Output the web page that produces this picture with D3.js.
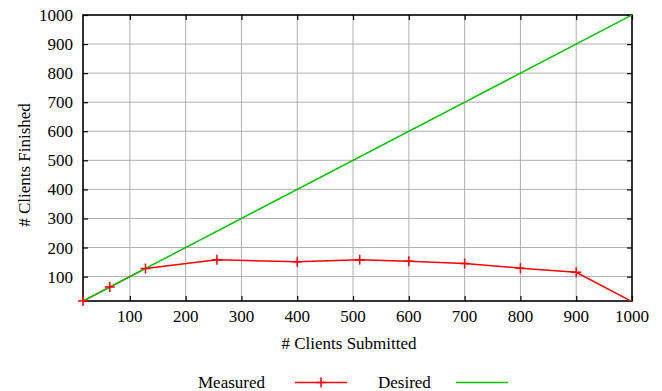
<!DOCTYPE html>
<html><head><meta charset="utf-8">
<script src="https://cdn.jsdelivr.net/npm/d3@7"></script>
</head><body style="margin:0"><svg id="c" width="662" height="391" font-family="Times New Roman, Liberation Serif, serif"></svg>
<script>
const submitted = [16, 64, 128, 256, 400, 512, 600, 700, 800, 900, 1000];
const measured  = [16, 64, 128, 158, 151, 158, 153, 145, 129, 115, 14];
const desiredX  = [16, 1000];
const desiredY  = [16, 1000];
const xTicks = [100,200,300,400,500,600,700,800,900,1000];
const yTicks = [100,200,300,400,500,600,700,800,900,1000];
const xTitle = "# Clients Submitted";
const yTitle = "# Clients Finished";
const legendLabels = ["Measured", "Desired"];

const FONT = "Times New Roman, Liberation Serif, serif";
const fs = 17;
const svg = d3.select("#c");
const L = 83, R = 632, T = 15, B = 301;
const x = d3.scaleLinear().domain([16, 1000]).range([L, R]);
const y = d3.scaleLinear().domain([16, 1000]).range([B, T]);

svg.append("rect").attr("width",662).attr("height",391).attr("fill","#fff");
svg.append("defs").append("clipPath").attr("id","clip")
  .append("rect").attr("x",L).attr("y",T).attr("width",R-L).attr("height",B-T);

// grid
const g = svg.append("g");
g.selectAll(".gx").data(xTicks.filter(d=>d<1000)).enter().append("line")
  .attr("x1",d=>x(d)).attr("x2",d=>x(d)).attr("y1",T).attr("y2",B)
  .attr("stroke","#b0b0b0").attr("stroke-width",1);
g.selectAll(".gy").data(yTicks.filter(d=>d<1000)).enter().append("line")
  .attr("y1",d=>y(d)).attr("y2",d=>y(d)).attr("x1",L).attr("x2",R)
  .attr("stroke","#b0b0b0").attr("stroke-width",1);

const xa = svg.append("g").attr("transform",`translate(0,${B})`)
  .call(d3.axisBottom(x).tickValues(xTicks).tickSize(-5).tickFormat(""));
const xt = svg.append("g").attr("transform",`translate(0,${T})`)
  .call(d3.axisTop(x).tickValues(xTicks).tickSize(-5).tickFormat(""));
const ya = svg.append("g").attr("transform",`translate(${L},0)`)
  .call(d3.axisLeft(y).tickValues(yTicks).tickSize(-5).tickFormat(""));
const yr = svg.append("g").attr("transform",`translate(${R},0)`)
  .call(d3.axisRight(y).tickValues(yTicks).tickSize(-5).tickFormat(""));
[xa,xt,ya,yr].forEach(a=>{ a.select(".domain").remove(); a.selectAll(".tick text").remove(); });
svg.selectAll(".tick line").attr("stroke","#000").attr("stroke-width",1.2);

const txt = (xx, yy, s, anchor) => svg.append("text").attr("x",xx).attr("y",yy)
  .attr("text-anchor",anchor||"start").attr("font-family",FONT).attr("font-size",fs).text(s);

xTicks.forEach(v => txt(x(v), 322, String(v), "middle"));
yTicks.forEach(v => txt(L - 10, y(v) + 6, String(v), "end"));

svg.append("rect").attr("x",L).attr("y",T).attr("width",R-L).attr("height",B-T)
  .attr("fill","none").attr("stroke","#000").attr("stroke-width",1.6);

const plot = svg.append("g").attr("clip-path","url(#clip)");
const desired = desiredX.map((d,i)=>({x:d,y:desiredY[i]}));
const line = d3.line().x(d=>x(d.x)).y(d=>y(d.y));
const meas = submitted.map((d,i)=>({x:d,y:measured[i]}));
plot.append("path").datum(meas).attr("d",line).attr("fill","none")
  .attr("stroke","#ff0000").attr("stroke-width",1.5);
plot.append("path").datum(desired).attr("d",line).attr("fill","none")
  .attr("stroke","#00c000").attr("stroke-width",1.5);

const plus = (sel, cx, cy, s) => {
  sel.append("path").attr("d",`M${cx-s},${cy}H${cx+s}M${cx},${cy-s}V${cy+s}`)
    .attr("stroke","#ff0000").attr("stroke-width",1.5).attr("fill","none");
};
const mk = svg.append("g");
meas.filter(d=>d.y>=16 && d.x>=16).forEach(d=>plus(mk, x(d.x), y(d.y), 5));

txt(349, 349, xTitle, "middle");
svg.append("text").attr("transform","translate(30,165) rotate(-90)")
  .attr("text-anchor","middle").attr("font-family",FONT).attr("font-size",fs).text(yTitle);

txt(198, 388, legendLabels[0]);
svg.append("line").attr("x1",295).attr("x2",347).attr("y1",382.5).attr("y2",382.5)
  .attr("stroke","#ff0000").attr("stroke-width",1.5);
plus(svg, 321, 382.5, 5);
txt(378, 388, legendLabels[1]);
svg.append("line").attr("x1",456).attr("x2",508).attr("y1",382.5).attr("y2",382.5)
  .attr("stroke","#00c000").attr("stroke-width",1.5);
</script></body></html>
